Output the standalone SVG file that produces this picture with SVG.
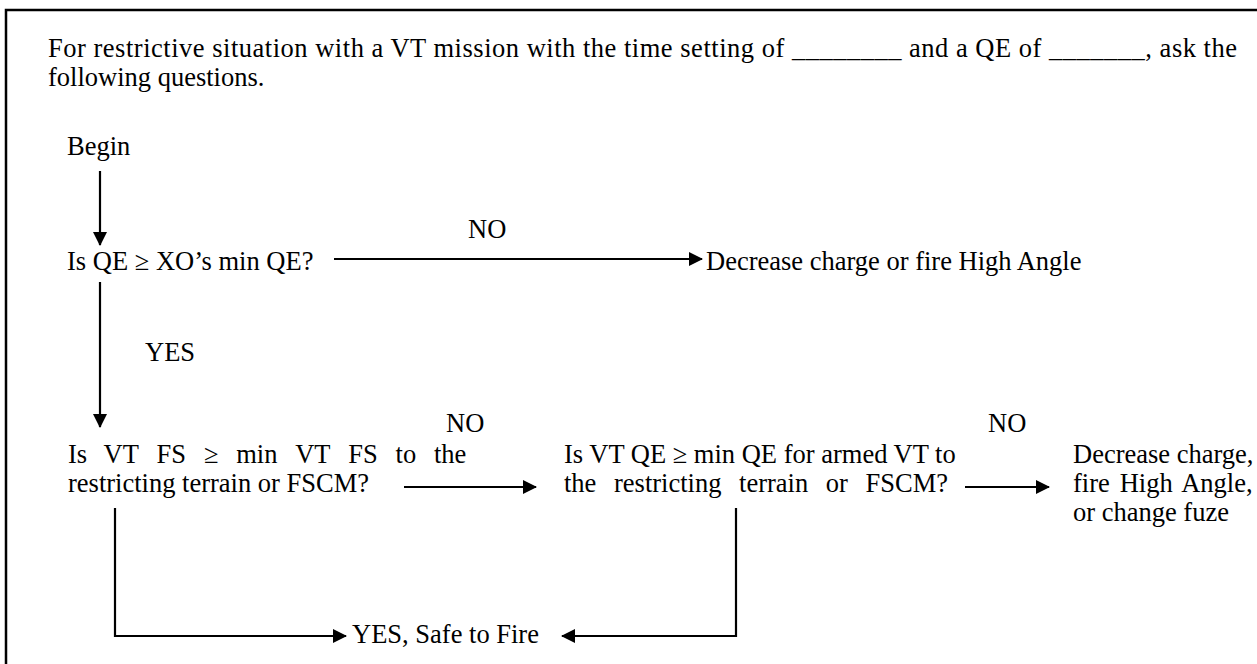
<svg xmlns="http://www.w3.org/2000/svg" width="1257" height="664" viewBox="0 0 1257 664">
<style>
text{font-family:"Liberation Serif","Times New Roman",serif;font-size:26.5px;fill:#000}
.ln{stroke:#000;stroke-width:2.2;fill:none}
</style>
<defs>
<marker id="ah" markerWidth="14" markerHeight="14" refX="13" refY="7" orient="auto" markerUnits="userSpaceOnUse">
<path d="M0,0 L14,7 L0,14 Z" fill="#000"/>
</marker>
</defs>
<rect width="1257" height="664" fill="#fff"/>
<path d="M6,664 V10 H1257" stroke="#000" stroke-width="2.5" fill="none"/>
<g id="header">
<text x="48" y="57" textLength="1189" lengthAdjust="spacing">For restrictive situation with a VT mission with the time setting of ________ and a QE of _______, ask the</text>
<text x="48" y="86">following questions.</text>
</g>
<g id="begin"><text x="67" y="155">Begin</text></g>
<g id="q1"><text x="67" y="270">Is QE ≥ XO’s min QE?</text></g>
<g id="dec1"><text x="706" y="270">Decrease charge or fire High Angle</text></g>
<g id="q2">
<text y="463"><tspan x="68">Is</tspan><tspan x="103.5">VT</tspan><tspan x="156.6">FS</tspan><tspan x="203.9">≥</tspan><tspan x="236.2">min</tspan><tspan x="295.2">VT</tspan><tspan x="348.3">FS</tspan><tspan x="395.6">to</tspan><tspan x="434">the</tspan></text>
<text x="68" y="492">restricting terrain or FSCM?</text>
</g>
<g id="q3">
<text x="564" y="463">Is VT QE ≥ min QE for armed VT to</text>
<text x="564" y="492" word-spacing="11">the restricting terrain or FSCM?</text>
</g>
<g id="dec2">
<text x="1073" y="463">Decrease charge,</text>
<text x="1073" y="492" word-spacing="3.3">fire High Angle,</text>
<text x="1073" y="521">or change fuze</text>
</g>
<g id="safe"><text x="352" y="643">YES, Safe to Fire</text></g>
<g id="connectors">
<line class="ln" x1="100" y1="171" x2="100" y2="245" marker-end="url(#ah)"/>
<line class="ln" x1="334" y1="259" x2="702" y2="259" marker-end="url(#ah)"/>
<line class="ln" x1="100" y1="282" x2="100" y2="427" marker-end="url(#ah)"/>
<line class="ln" x1="404" y1="487" x2="536" y2="487" marker-end="url(#ah)"/>
<line class="ln" x1="965" y1="487" x2="1049" y2="487" marker-end="url(#ah)"/>
<path class="ln" d="M115,508 V636 H346" marker-end="url(#ah)"/>
<path class="ln" d="M736,508 V636 H562" marker-end="url(#ah)"/>
<text x="468" y="238">NO</text>
<text x="145" y="361">YES</text>
<text x="446" y="432">NO</text>
<text x="988" y="432">NO</text>
</g>
</svg>
